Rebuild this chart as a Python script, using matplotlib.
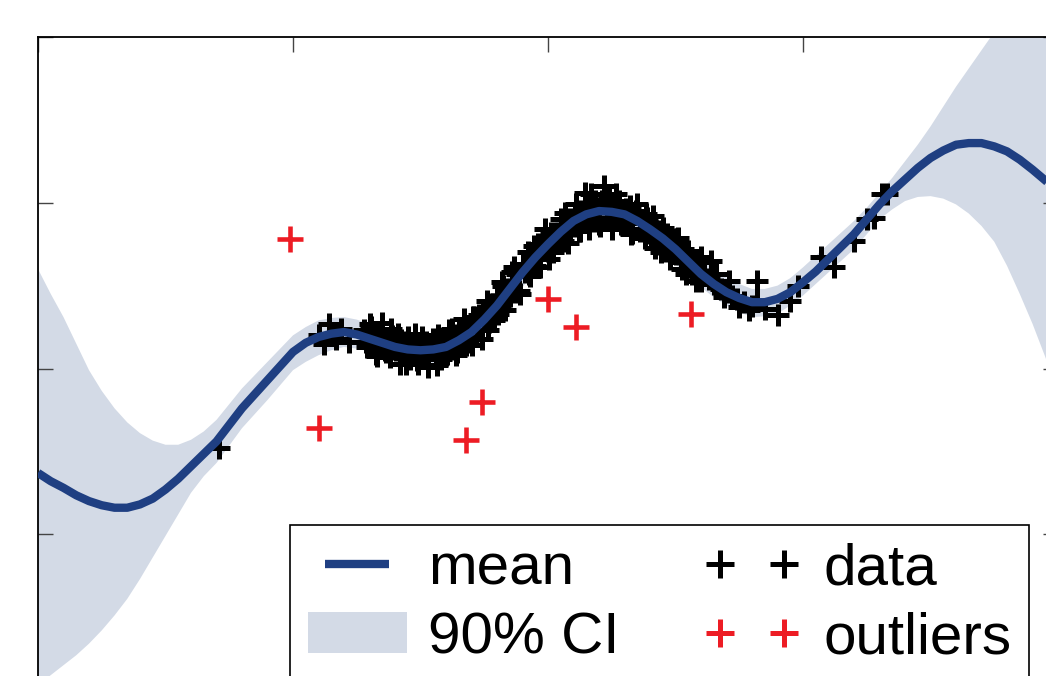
import numpy as np
import matplotlib
matplotlib.use('Agg')
import matplotlib.pyplot as plt

plt.rcParams['font.family'] = ['Liberation Sans', 'DejaVu Sans']

# ------------------------------------------------------------------
# GP posterior on a regular grid (step 0.05)
# ------------------------------------------------------------------
x_grid = np.round(np.arange(81) * 0.05, 2)

mean = [-0.63, -0.68, -0.72, -0.765, -0.80, -0.825, -0.84, -0.84, -0.82, -0.785,
        -0.73, -0.665, -0.59, -0.515, -0.44, -0.34, -0.24, -0.155, -0.07, 0.015,
        0.10, 0.155, 0.19, 0.21, 0.22, 0.205, 0.18, 0.155, 0.13, 0.115,
        0.11, 0.115, 0.13, 0.17, 0.22, 0.295, 0.38, 0.48, 0.58, 0.67,
        0.75, 0.825, 0.89, 0.93, 0.95, 0.945, 0.93, 0.89, 0.84, 0.785,
        0.72, 0.645, 0.57, 0.51, 0.46, 0.425, 0.40, 0.40, 0.42, 0.46,
        0.52, 0.585, 0.66, 0.735, 0.81, 0.90, 0.99, 1.07, 1.14, 1.21,
        1.27, 1.315, 1.35, 1.36, 1.36, 1.34, 1.31, 1.26, 1.20, 1.135,
        1.07]

ci_upper = [0.60, 0.45, 0.31, 0.15, -0.01, -0.135, -0.24, -0.325, -0.39, -0.435,
            -0.46, -0.46, -0.43, -0.38, -0.31, -0.215, -0.12, -0.04, 0.04, 0.12,
            0.20, 0.25, 0.29, 0.305, 0.31, 0.295, 0.27, 0.245, 0.22, 0.20,
            0.19, 0.195, 0.21, 0.25, 0.30, 0.375, 0.46, 0.56, 0.66, 0.75,
            0.84, 0.91, 0.97, 1.005, 1.03, 1.025, 1.01, 0.975, 0.93, 0.87,
            0.80, 0.73, 0.66, 0.60, 0.55, 0.51, 0.48, 0.48, 0.50, 0.545,
            0.61, 0.68, 0.75, 0.82, 0.89, 0.97, 1.06, 1.15, 1.25, 1.35,
            1.46, 1.58, 1.70, 1.81, 1.92, 2.03, 2.14, 2.25, 2.37, 2.48,
            2.58]

ci_lower = [-1.91, -1.85, -1.79, -1.73, -1.66, -1.58, -1.49, -1.39, -1.27, -1.14,
            -1.01, -0.88, -0.75, -0.65, -0.57, -0.465, -0.36, -0.275, -0.19, -0.10,
            -0.01, 0.04, 0.08, 0.11, 0.13, 0.12, 0.10, 0.075, 0.05, 0.03,
            0.02, 0.025, 0.04, 0.08, 0.13, 0.21, 0.30, 0.395, 0.49, 0.585,
            0.67, 0.74, 0.80, 0.84, 0.86, 0.86, 0.84, 0.805, 0.76, 0.70,
            0.63, 0.56, 0.49, 0.43, 0.38, 0.34, 0.31, 0.315, 0.33, 0.38,
            0.44, 0.51, 0.58, 0.65, 0.72, 0.81, 0.90, 0.96, 1.01, 1.035,
            1.04, 1.025, 0.99, 0.935, 0.86, 0.765, 0.62, 0.45, 0.27, 0.07,
            -0.14]

# ------------------------------------------------------------------
# observations
# ------------------------------------------------------------------
data_x = [0.71,
          1.10, 1.12, 1.14, 1.17, 1.19, 1.22,
          1.28, 1.29, 1.30, 1.31, 1.32, 1.33, 1.34, 1.35, 1.36, 1.37,
          1.38, 1.39, 1.40, 1.41, 1.42, 1.43, 1.44, 1.45, 1.46, 1.47,
          1.48, 1.49, 1.50, 1.51, 1.52, 1.53, 1.54, 1.55, 1.56, 1.57,
          1.58, 1.59, 1.60, 1.61, 1.62, 1.63, 1.64, 1.65, 1.66, 1.67,
          1.68, 1.69, 1.70, 1.71, 1.72, 1.73, 1.74, 1.75, 1.76, 1.77,
          1.78, 1.79, 1.80, 1.81, 1.82, 1.83, 1.84, 1.85, 1.86, 1.87,
          1.88, 1.89, 1.90, 1.91, 1.92, 1.93, 1.94, 1.95, 1.96, 1.97,
          1.98, 1.99, 2.00, 2.01, 2.02, 2.03, 2.04, 2.05, 2.06, 2.07,
          2.08, 2.09, 2.10, 2.11, 2.12, 2.13, 2.14, 2.15, 2.16, 2.17,
          2.18, 2.19, 2.20, 2.21, 2.22, 2.23, 2.24, 2.25, 2.26, 2.27,
          2.28, 2.29, 2.30, 2.31, 2.32, 2.33, 2.34, 2.35, 2.36, 2.37,
          2.38, 2.39, 2.40, 2.41, 2.42, 2.43, 2.44, 2.45, 2.46, 2.47,
          2.48, 2.49, 2.50, 2.51, 2.52, 2.53, 2.54, 2.55, 2.56, 2.57,
          2.58, 2.59, 2.60,
          1.285, 1.305, 1.325, 1.345, 1.365, 1.385, 1.405, 1.425, 1.445, 1.465,
          1.485, 1.505, 1.525, 1.545, 1.565, 1.585, 1.605, 1.625, 1.645, 1.665,
          1.685, 1.705, 1.725, 1.745, 1.765, 1.785, 1.805, 1.825, 1.845, 1.865,
          1.885, 1.905, 1.925, 1.945, 1.965, 1.985, 2.005, 2.025, 2.045, 2.065,
          2.085, 2.105, 2.125, 2.145, 2.165, 2.185, 2.205, 2.225, 2.245, 2.265,
          2.285, 2.305, 2.325, 2.345, 2.365, 2.385, 2.405, 2.425, 2.445, 2.465,
          2.485, 2.505, 2.525, 2.545, 2.565, 2.585,
          2.56, 2.60, 2.61, 2.63, 2.64, 2.65, 2.66, 2.68, 2.69, 2.70,
          2.71, 2.72, 2.74, 2.75, 2.77, 2.79, 2.80, 2.82, 2.82, 2.85,
          2.90, 2.95, 2.98, 3.07, 3.12, 3.20, 3.25, 3.28, 3.31, 3.33]

data_y = [-0.48,
          0.20, 0.15, 0.27, 0.18, 0.24, 0.16,
          0.23, 0.13, 0.27, 0.155, 0.17, 0.075, 0.21, 0.275, 0.11, 0.165,
          0.07, 0.195, 0.12, 0.21, 0.03, 0.16, 0.09, 0.19, 0.06, 0.13,
          0.21, 0.03, 0.14, 0.09, 0.16, 0.01, 0.12, 0.18, 0.08, 0.20,
          0.06, 0.15, 0.08, 0.23, 0.12, 0.20, 0.08, 0.24, 0.17, 0.30,
          0.14, 0.24, 0.14, 0.31, 0.23, 0.32, 0.18, 0.31, 0.41, 0.28,
          0.39, 0.29, 0.44, 0.37, 0.52, 0.35, 0.48, 0.44, 0.58, 0.46,
          0.57, 0.45, 0.63, 0.58, 0.70, 0.56, 0.69, 0.62, 0.75, 0.61,
          0.73, 0.84, 0.71, 0.82, 0.70, 0.82, 0.79, 0.90, 0.77, 0.90,
          0.76, 0.90, 0.86, 0.99, 0.83, 0.95, 0.90, 0.99, 0.84, 1.05,
          0.89, 0.97, 0.87, 1.01, 1.10, 0.91, 1.03, 0.84, 0.99, 0.92,
          1.01, 0.87, 0.95, 0.88, 0.98, 0.82, 0.93, 0.99, 0.83, 0.88,
          0.79, 0.91, 0.82, 0.92, 0.73, 0.83, 0.75, 0.85, 0.71, 0.78,
          0.66, 0.78, 0.69, 0.79, 0.64, 0.72, 0.57, 0.71, 0.61, 0.65,
          0.53, 0.64, 0.53,
          0.16, 0.25, 0.09, 0.18, 0.10, 0.24, 0.11, 0.17, 0.03, 0.14,
          0.05, 0.19, 0.10, 0.15, 0.02, 0.18, 0.09, 0.24, 0.10, 0.21,
          0.16, 0.31, 0.23, 0.34, 0.23, 0.39, 0.33, 0.50, 0.45, 0.61,
          0.47, 0.63, 0.57, 0.74, 0.66, 0.79, 0.66, 0.81, 0.76, 0.94,
          0.83, 0.94, 0.83, 1.06, 0.92, 1.01, 0.86, 0.99, 0.90, 1.05,
          0.87, 0.96, 0.81, 0.95, 0.84, 0.93, 0.78, 0.83, 0.70, 0.81,
          0.72, 0.78, 0.60, 0.68, 0.57, 0.65,
          0.61, 0.67, 0.58, 0.54, 0.65, 0.51, 0.57, 0.48, 0.43, 0.46,
          0.53, 0.44, 0.42, 0.37, 0.40, 0.35, 0.38, 0.53, 0.41, 0.36,
          0.32, 0.41, 0.50, 0.67, 0.61, 0.77, 0.90, 0.91, 1.05, 1.05]

outlier_x = [0.99, 1.10, 1.68, 1.74, 2.00, 2.11, 2.56]
outlier_y = [0.78, -0.36, -0.43, -0.20, 0.42, 0.25, 0.33]

# ------------------------------------------------------------------
# plotting
# ------------------------------------------------------------------
W, H = 1046, 676
fig = plt.figure(figsize=(W / 100, H / 100), dpi=100)
ax = fig.add_axes([38 / W, 1 - 700 / H, 1020 / W, 663 / H])

ax.fill_between(x_grid, ci_lower, ci_upper, color='#d3dae6', lw=0,
                label='90% CI', zorder=1)
ax.plot(data_x, data_y, '+', color='k', ms=16, mew=3.6, label='data', zorder=2)
ax.plot(outlier_x, outlier_y, '+', color='#ed1c24', ms=19, mew=3.3,
        label='outliers', zorder=2)
ax.plot(x_grid, mean, '-', color='#1f3f82', lw=6, label='mean', zorder=3,
        solid_capstyle='butt')

ax.set_xlim(0, 4)
ax.set_ylim(-2, 2)
ax.set_xticks([0, 1, 2, 3, 4])
ax.set_yticks([-2, -1, 0, 1, 2])
ax.tick_params(direction='in', length=11, width=1, color='#444444',
               top=True, right=True, labelbottom=False, labelleft=False)
for sp in ax.spines.values():
    sp.set_linewidth(1.3)

h, l = ax.get_legend_handles_labels()
order = [l.index('mean'), l.index('90% CI'), l.index('data'), l.index('outliers')]
leg = ax.legend([h[i] for i in order], [l[i] for i in order],
                ncol=2, loc='upper left',
                bbox_to_anchor=(290 / W, 1 - 525 / H), bbox_transform=fig.transFigure,
                fontsize=42, numpoints=2, handlelength=1.7, handletextpad=0.37,
                columnspacing=1.42, borderpad=0.3, labelspacing=0.25,
                borderaxespad=0, fancybox=False, framealpha=1)
leg.get_frame().set_edgecolor('k')
leg.get_frame().set_linewidth(1.2)
# bigger crosses in the legend
for hd in leg.legend_handles[2:]:
    hd.set_markersize(20)
    hd.set_markeredgewidth(3.6)

fig.savefig('out.png', dpi=100)
